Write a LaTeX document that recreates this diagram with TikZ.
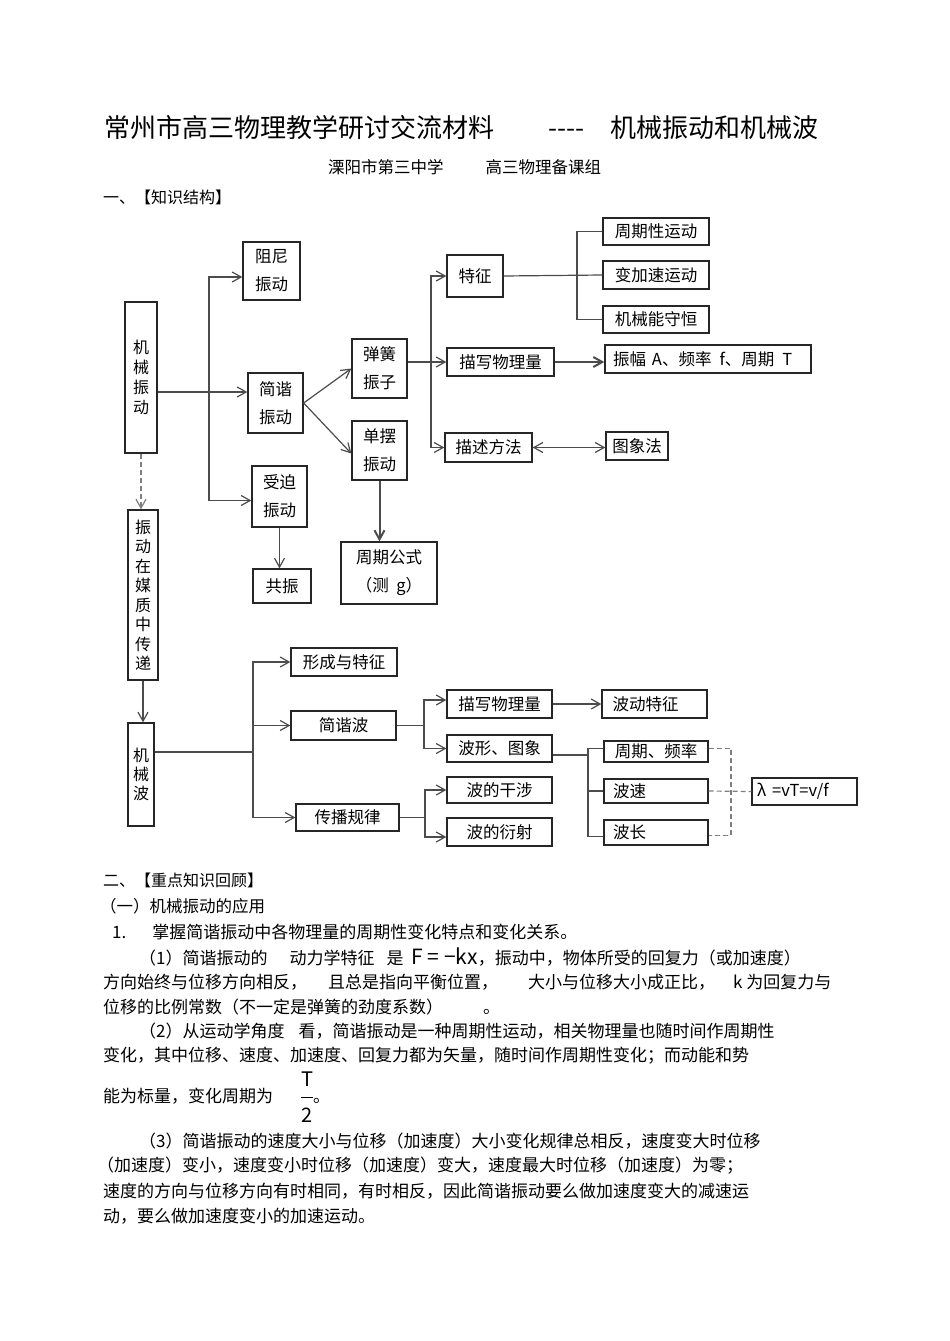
\documentclass[tikz,border=0pt]{standalone}
\usepackage{fontspec}
\setmainfont{Noto Sans CJK SC}
\usetikzlibrary{arrows.meta}

\begin{document}
\begin{tikzpicture}[x=1pt,y=-1pt,>={Straight Barb[length=9pt,width=10pt]},
  box/.style={draw=black!85,line width=1.3pt,inner sep=0pt,align=center,
    font=\fontsize{16.5}{28}\selectfont},
  vbox/.style={box,font=\fontsize{16}{20}\selectfont},
  link/.style={draw=black!70,line width=1.2pt},
  arr/.style={link,->},
  dashlink/.style={link,draw=black!50,dash pattern=on 5pt off 3pt}]
  \fill[white] (0,0) rectangle (950,1341);
  \useasboundingbox (0,0) rectangle (950,1341);
  \tikzset{txt/.style={anchor=west,inner sep=0pt,font=\fontsize{17}{17}\selectfont}}

  \node[txt,font=\fontsize{26}{26}\selectfont] (title) at (104,128)
    {常州市高三物理教学研讨交流材料\hspace{54pt}-{}-{}-{}-\hspace{26pt}机械振动和机械波};
  \node[txt,font=\fontsize{16.5}{17}\selectfont] (school) at (328,167)
    {溧阳市第三中学\hspace{42pt}高三物理备课组};
  \node[txt,font=\fontsize{16}{16}\selectfont] (part1) at (103,197) {一、【知识结构】};

  \node[box,minimum width=57,minimum height=58] (zuni) at (271.5,271) {阻尼\\振动};
  \node[vbox,minimum width=32,minimum height=151] (jixiezd) at (141,377.5) {机\\械\\振\\动};
  \node[box,minimum width=55,minimum height=60] (jianxie) at (275.5,403) {简谐\\振动};
  \node[box,minimum width=55,minimum height=59] (tanhuang) at (379.5,368.5) {弹簧\\振子};
  \node[box,minimum width=55,minimum height=59] (danbai) at (379.5,450.5) {单摆\\振动};
  \node[box,minimum width=55,minimum height=61] (shoupo) at (279.5,496.5) {受迫\\振动};
  \node[box,minimum width=58,minimum height=34] (gongzhen) at (282,586) {共振};
  \node[box,minimum width=96,minimum height=62] (zhouqigs) at (389,573) {周期公式\\（测\ \ g）};
  \node[vbox,minimum width=30,minimum height=170,font=\fontsize{16}{19.5}\selectfont]
    (chuandi) at (143,595) {振\\动\\在\\媒\\质\\中\\传\\递};
  \node[vbox,minimum width=26,minimum height=103,font=\fontsize{16}{19}\selectfont]
    (jixiebo) at (141,774.5) {机\\械\\波};

  \node[box,minimum width=56,minimum height=42] (tezheng) at (475,276) {特征};
  \node[box,minimum width=107,minimum height=28] (miaoxie1) at (500.5,362) {描写物理量};
  \node[box,minimum width=87,minimum height=29] (miaoshu) at (488.5,447.5) {描述方法};
  \node[box,minimum width=106,minimum height=27] (zhouqixing) at (656,231.5) {周期性运动};
  \node[box,minimum width=106,minimum height=28] (bianjiasu) at (656,275) {变加速运动};
  \node[box,minimum width=106,minimum height=27] (jixieneng) at (656,319.5) {机械能守恒};
  \node[box,minimum width=206,minimum height=28,text width=190pt,align=left] (zhenfu)
    at (708,359) {振幅\hspace{6pt}A、频率\hspace{8pt}f、周期\hspace{8pt}T};
  \node[box,minimum width=62,minimum height=28] (tuxiang) at (637,446) {图象法};

  \node[box,minimum width=106,minimum height=28] (xingcheng) at (344,662) {形成与特征};
  \node[box,minimum width=105,minimum height=29] (jianxiebo) at (343.5,725.5) {简谐波};
  \node[box,minimum width=103,minimum height=27] (chuanbo) at (347.5,817.5) {传播规律};
  \node[box,minimum width=105,minimum height=28] (miaoxie2) at (499.5,704) {描写物理量};
  \node[box,minimum width=105,minimum height=28,text width=84pt,align=left] (bodong)
    at (654.5,704) {波动特征};
  \node[box,minimum width=105,minimum height=27] (boxing) at (499.5,748.5) {波形、图象};
  \node[box,minimum width=105,minimum height=26] (ganshe) at (499.5,790) {波的干涉};
  \node[box,minimum width=105,minimum height=28] (yanshe) at (499.5,832) {波的衍射};
  \node[box,minimum width=104,minimum height=21] (zhouqipl) at (656,751.5) {周期、频率};
  \node[box,minimum width=104,minimum height=24,text width=86pt,align=left] (bosu)
    at (656,791) {波速};
  \node[box,minimum width=104,minimum height=25,text width=86pt,align=left] (bochang)
    at (656,832.5) {波长};
  \node[box,minimum width=105,minimum height=27,text width=95pt,align=left] (bolambda)
    at (804.5,791.5) {λ\hspace{6pt}=vT=v/f};

  \coordinate (zdfork) at (209,392);
  \draw[link] (jixiezd.east |- zdfork) -- (zdfork);
  \draw[arr] (zdfork) -- (jianxie.west |- zdfork);
  \draw[arr] (zdfork) |- ([yshift=-6pt]zuni.west);
  \draw[arr] (zdfork) |- ([yshift=-4pt]shoupo.west);
  \draw[arr] (jianxie.east) -- (tanhuang.west);
  \draw[arr] (jianxie.east) -- ([yshift=-3pt]danbai.west);
  \draw[arr] (shoupo.south) -- (shoupo.south |- gongzhen.north);
  \draw[arr,line width=2pt] (danbai.south) -- (danbai.south |- zhouqigs.north);
  \draw[dashlink,->] (jixiezd.south) -- (jixiezd.south |- chuandi.north);
  \draw[arr] (chuandi.south) -- (chuandi.south |- jixiebo.north);

  \coordinate (thfork) at (431,362);
  \draw[link] (tanhuang.east |- thfork) -- (thfork);
  \draw[arr] (thfork) |- (tezheng.west);
  \draw[arr] (thfork) -- (miaoxie1.west);
  \draw[arr] (thfork) |- (miaoshu.west);
  \coordinate (tzfork) at (577,275);
  \draw[link] (tezheng.east) -- (bianjiasu.west);
  \draw[link] (zhouqixing.west) -| (tzfork) |- (jixieneng.west);
  \draw[arr,line width=2pt] (miaoxie1.east) -- (miaoxie1.east -| zhenfu.west);
  \draw[link,<->] (miaoshu.east) -- (miaoshu.east -| tuxiang.west);

  \coordinate (bofork) at (253,752);
  \draw[link] (jixiebo.east |- bofork) -- (bofork);
  \draw[arr] (bofork) |- (xingcheng.west);
  \draw[arr] (bofork) |- (jianxiebo.west);
  \draw[arr] (bofork) |- (chuanbo.west);
  \coordinate (jxbfork) at (424,725.5);
  \draw[link] (jianxiebo.east) -- (jxbfork);
  \draw[arr] (jxbfork) |- ([yshift=4pt]miaoxie2.west);
  \draw[arr] (jxbfork) |- (boxing.west);
  \coordinate (cbfork) at (425,817.5);
  \draw[link] (chuanbo.east) -- (cbfork);
  \draw[arr] (cbfork) |- (ganshe.west);
  \draw[arr] (cbfork) |- ([yshift=-5pt]yanshe.west);
  \draw[arr] (miaoxie2.east) -- (bodong.west);
  \coordinate (bxfork) at (588,755);
  \draw[link] (boxing.east |- bxfork) -- (bxfork);
  \draw[link] ([yshift=3pt]zhouqipl.west) -| (bxfork) |- ([yshift=-4pt]bochang.west);
  \draw[link] (bxfork |- bosu.west) -- (bosu.west);
  \coordinate (lamfork) at (731,791);
  \draw[dashlink] ([yshift=3pt]zhouqipl.east) -| (lamfork) |- ([yshift=-3pt]bochang.east);
  \draw[dashlink] (bosu.east) -- (bolambda.west);

  \node[txt,font=\fontsize{16}{16}\selectfont] (part2) at (103,880) {二、【重点知识回顾】};
  \node[txt,font=\fontsize{16.5}{17}\selectfont] (sec1) at (100,906) {（一）机械振动的应用};
  \node[txt] (item1) at (112,932)
    {1.\hspace{26pt}掌握简谐振动中各物理量的周期性变化特点和变化关系。};
  \node[txt] (p1a) at (139,957) {（1）简谐振动的\hspace{22pt}动力学特征\hspace{12pt}是\hspace{8pt}%
    {\fontsize{21}{21}\selectfont F = −kx}，振动中，物体所受的回复力（或加速度）};
  \node[txt] (p1b) at (103,982) {\makebox[225pt][l]{方向始终与位移方向相反，}%
    \makebox[200pt][l]{且总是指向平衡位置，}\makebox[205pt][l]{大小与位移大小成正比，}k 为回复力与};
  \node[txt] (p1c) at (103,1007) {位移的比例常数（不一定是弹簧的劲度系数）\hspace{40pt}。};
  \node[txt] (p2a) at (139,1031)
    {（2）从运动学角度\hspace{14pt}看，简谐振动是一种周期性运动，相关物理量也随时间作周期性};
  \node[txt] (p2b) at (103,1056)
    {变化，其中位移、速度、加速度、回复力都为矢量，随时间作周期性变化；而动能和势};
  \node[txt,anchor=base west] (p2c) at (103,1102.5) {能为标量，变化周期为\hspace{28pt}%
    {\fontsize{20}{20}\selectfont\renewcommand\arraystretch{1.75}%
    \begin{tabular}{@{}c@{}}T\\\hline 2\end{tabular}}。};
  \node[txt] (p3a) at (139,1141)
    {（3）简谐振动的速度大小与位移（加速度）大小变化规律总相反，速度变大时位移};
  \node[txt] (p3b) at (97,1166)
    {（加速度）变小，速度变小时位移（加速度）变大，速度最大时位移（加速度）为零；};
  \node[txt] (p3c) at (103,1191)
    {速度的方向与位移方向有时相同，有时相反，因此简谐振动要么做加速度变大的减速运};
  \node[txt] (p3d) at (103,1216) {动，要么做加速度变小的加速运动。};
\end{tikzpicture}
\end{document}
